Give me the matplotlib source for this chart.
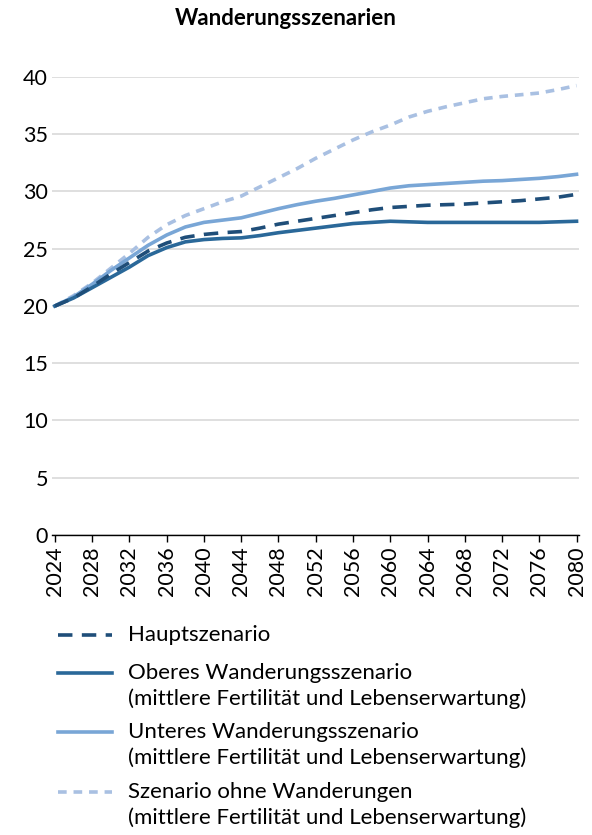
import matplotlib.pyplot as plt
from matplotlib.lines import Line2D

years = list(range(2024, 2081, 2))

haupt = [20.0, 20.7, 21.7, 22.8, 23.8, 24.8, 25.5, 26.0, 26.25, 26.4, 26.5, 26.8, 27.15, 27.4, 27.65,
         27.9, 28.15, 28.4, 28.6, 28.7, 28.8, 28.85, 28.9, 29.0, 29.1, 29.2, 29.35, 29.5, 29.75]
oberes = [20.0, 20.7, 21.6, 22.5, 23.4, 24.4, 25.1, 25.6, 25.8, 25.9, 25.95, 26.15, 26.4, 26.6, 26.8,
          27.0, 27.2, 27.3, 27.4, 27.35, 27.3, 27.3, 27.3, 27.3, 27.3, 27.3, 27.3, 27.35, 27.4]
unteres = [20.0, 20.8, 21.9, 23.1, 24.2, 25.3, 26.2, 26.9, 27.3, 27.5, 27.7, 28.1, 28.5, 28.85, 29.15,
           29.4, 29.7, 30.0, 30.3, 30.5, 30.6, 30.7, 30.8, 30.9, 30.95, 31.05, 31.15, 31.3, 31.5]
ohne = [20.0, 20.9, 22.0, 23.3, 24.6, 26.0, 27.1, 27.9, 28.5, 29.1, 29.6, 30.4, 31.2, 32.0, 32.9,
        33.7, 34.5, 35.2, 35.8, 36.5, 37.0, 37.4, 37.75, 38.1, 38.3, 38.45, 38.6, 38.9, 39.25]

labels = ['Hauptszenario',
          'Oberes Wanderungsszenario',
          'Unteres Wanderungsszenario',
          'Szenario ohne Wanderungen']
sublabel = '(mittlere Fertilität und Lebenserwartung)'
xticks = list(range(2024, 2081, 4))
yticks = list(range(0, 41, 5))

plt.rcParams['font.family'] = ['Lato', 'DejaVu Sans']

W, H = 592, 835
fig = plt.figure(figsize=(W / 100, H / 100), dpi=100)
ax = fig.add_axes([0.0878, 0.3593, 0.890, 0.5485])

lw = 2.6
styles = [
    dict(color='#1f4e79', dashes=(4, 2.6), zorder=5),
    dict(color='#2a6899', zorder=4),
    dict(color='#79a6d6', zorder=3),
    dict(color='#a9c0e2', dashes=(2.4, 1.9), zorder=2),
]
for series, st in zip([haupt, oberes, unteres, ohne], styles):
    ax.plot(years, series, lw=lw, **st)

ax.set_xlim(2023.68, 2080.25)
ax.set_ylim(0, 40)
ax.set_yticks(yticks)
ax.set_xticks(xticks)
ax.set_xticklabels([str(x) for x in xticks], rotation=90)
ax.yaxis.grid(True, color='#d9d9d9', lw=1.2)
ax.set_axisbelow(True)
for s in ['left', 'right', 'top']:
    ax.spines[s].set_visible(False)
ax.spines['bottom'].set_color('black')
ax.spines['bottom'].set_linewidth(1.0)
ax.tick_params(axis='y', length=0, labelsize=15.5, pad=3)
ax.tick_params(axis='x', length=5, width=1, labelsize=15.5, pad=3)

fig.text(0.483, 0.978, 'Wanderungsszenarien', ha='center', va='center', fontsize=16, fontweight='bold')

# legend, drawn by hand so the handle sits on the first text line like in Excel
row_y = [635, 673, 732, 792]
for i, (lab, st) in enumerate(zip(labels, styles)):
    y = 1 - row_y[i] / H
    st2 = {k: v for k, v in st.items() if k != 'zorder'}
    fig.add_artist(Line2D([58 / W, 112 / W], [y, y], lw=lw, transform=fig.transFigure, **st2))
    fig.text(128 / W, y, lab, ha='left', va='center', fontsize=16)
    if i > 0:
        fig.text(128 / W, 1 - (row_y[i] + 26) / H, sublabel, ha='left', va='center', fontsize=16)

fig.savefig('out.png', dpi=100)
